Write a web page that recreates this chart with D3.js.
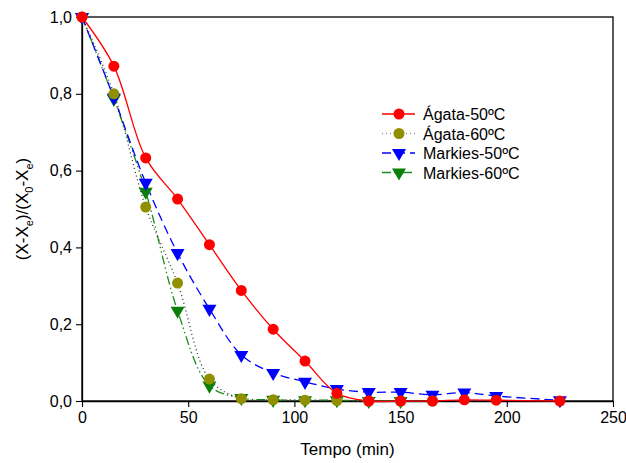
<!DOCTYPE html>
<html>
<head>
<meta charset="utf-8">
<script src="https://cdn.jsdelivr.net/npm/d3@7"></script>
<style>
  body { margin: 0; background: #fff; }
  text { font-family: "Liberation Sans", Arial, sans-serif; }
</style>
</head>
<body>
<svg id="chart" width="626" height="463"></svg>
<script>
// Drying data - time in minutes, moisture ratio
var tempo = [0, 15, 30, 45, 60, 75, 90, 105, 120, 135, 150, 165, 180, 195, 225];
var agata50 = [1.0, 0.872, 0.633, 0.526, 0.407, 0.288, 0.187, 0.104, 0.02, 0.0, 0.0, 0.0, 0.003, 0.002, 0.0];
var agata60Tempo = [0, 15, 30, 45, 60, 75, 90, 105, 120, 135, 150, 165];
var agata60 = [1.0, 0.80, 0.505, 0.307, 0.057, 0.006, 0.003, 0.002, 0.001, 0.0, 0.0, 0.0];
var markies50Tempo = [0, 15, 30, 45, 60, 75, 90, 105, 120, 135, 150, 165, 180, 195, 225];
var markies50 = [1.0, 0.79, 0.568, 0.385, 0.24, 0.12, 0.073, 0.05, 0.031, 0.023, 0.023, 0.016, 0.022, 0.013, 0.002];
var markies60Tempo = [0, 15, 30, 45, 60, 75, 90, 105, 120, 135, 150];
var markies60 = [1.0, 0.787, 0.545, 0.235, 0.04, 0.008, 0.003, 0.002, 0.002, 0.0, 0.0];

var xTicks = [0, 50, 100, 150, 200, 250];
var yTicks = [0, 0.2, 0.4, 0.6, 0.8, 1.0];

var series = [
	{ name: "Ágata-50ºC", x: tempo, y: agata50, color: "#ff0000", marker: "circle", mcolor: "#ff0000", dash: null },
	{ name: "Ágata-60ºC", x: agata60Tempo, y: agata60, color: "#333333", marker: "circle", mcolor: "#8f8f00", dash: "1,3" },
	{ name: "Markies-50ºC", x: markies50Tempo, y: markies50, color: "#0000ff", marker: "triangle", mcolor: "#0000ff", dash: "9,5" },
	{ name: "Markies-60ºC", x: markies60Tempo, y: markies60, color: "#1a8c1a", marker: "triangle", mcolor: "#0a800a", dash: "9,3,1.5,3,1.5,3" }
];

var margin = { top: 17, right: 13, bottom: 62, left: 82 };
var width = 626 - margin.left - margin.right;
var height = 463 - margin.top - margin.bottom;

var svg = d3.select("#chart");
var g = svg.append("g").attr("transform", "translate(" + margin.left + "," + margin.top + ")");

var x = d3.scaleLinear().domain([0, 250]).range([0, width]);
var y = d3.scaleLinear().domain([0, 1]).range([height, 0]);

var locale = d3.formatLocale({ decimal: ",", thousands: ".", grouping: [3], currency: ["", ""] });
var fmt = locale.format(".1f");

// Frame
g.append("rect")
	.attr("width", width).attr("height", height)
	.attr("fill", "none").attr("stroke", "#000").attr("stroke-width", 1.3);

// Axes
var xAxis = g.append("g").attr("transform", "translate(0," + height + ")")
	.call(d3.axisBottom(x).tickValues(xTicks).tickSize(6).tickPadding(5).tickSizeOuter(0));
var yAxis = g.append("g")
	.call(d3.axisLeft(y).tickValues(yTicks).tickFormat(fmt).tickSize(6).tickPadding(4).tickSizeOuter(0));

[xAxis, yAxis].forEach(function(a) {
	a.select(".domain").attr("stroke", "#000").attr("stroke-width", 1.3);
	a.selectAll(".tick line").attr("stroke", "#000").attr("stroke-width", 1.1);
	a.selectAll(".tick text").attr("font-size", 16).attr("fill", "#000")
		.style("font-family", "'Liberation Sans', Arial, sans-serif");
});

// Axis titles
svg.append("text")
	.attr("x", margin.left + width / 2).attr("y", 455)
	.attr("text-anchor", "middle").attr("font-size", 17)
	.text("Tempo (min)");

var yl = svg.append("text")
	.attr("transform", "translate(28," + (margin.top + height / 2) + ") rotate(-90)")
	.attr("text-anchor", "middle").attr("font-size", 17);
yl.append("tspan").text("(X-X");
yl.append("tspan").attr("font-size", 11).attr("dy", 5).text("e");
yl.append("tspan").attr("dy", -5).text(")/(X");
yl.append("tspan").attr("font-size", 11).attr("dy", 5).text("0");
yl.append("tspan").attr("dy", -5).text("-X");
yl.append("tspan").attr("font-size", 11).attr("dy", 5).text("e");
yl.append("tspan").attr("dy", -5).text(")");

var line = d3.line()
	.x(function(d) { return x(d[0]); })
	.y(function(d) { return y(d[1]); })
	.curve(d3.curveCatmullRom.alpha(0.5));

var circleSym = d3.symbol().type(d3.symbolCircle).size(95);
var triSym = d3.symbol().type(d3.symbolTriangle).size(85);

function drawMarker(sel, s) {
	if (s.marker === "circle") {
		sel.attr("d", circleSym);
	} else {
		sel.attr("d", triSym);
	}
}

// Draw in reverse so Ágata-50 sits on top like the original
series.slice().reverse().forEach(function(s) {
	var pts = s.x.map(function(t, i) { return [t, s.y[i]]; });
	g.append("path")
		.datum(pts)
		.attr("d", line)
		.attr("fill", "none")
		.attr("stroke", s.color)
		.attr("stroke-width", 1.3)
		.attr("stroke-dasharray", s.dash);
});

series.slice().reverse().forEach(function(s) {
	var pts = s.x.map(function(t, i) { return [t, s.y[i]]; });
	g.selectAll(null)
		.data(pts)
		.enter()
		.append("path")
		.attr("transform", function(d) {
			var r = s.marker === "triangle" ? " rotate(180)" : "";
			return "translate(" + x(d[0]) + "," + y(d[1]) + ")" + r;
		})
		.call(drawMarker, s)
		.attr("fill", s.mcolor);
});

// Legend
var legend = svg.append("g").attr("transform", "translate(382,114)");
series.forEach(function(s, i) {
	var row = legend.append("g").attr("transform", "translate(0," + (i * 19.5) + ")");
	row.append("line")
		.attr("x1", 0).attr("x2", 33).attr("y1", 0).attr("y2", 0)
		.attr("stroke", s.name === "Ágata-60ºC" ? "#999" : s.color)
		.attr("stroke-width", 1.3)
		.attr("stroke-dasharray", s.dash);
	row.append("path")
		.attr("transform", "translate(17,0)" + (s.marker === "triangle" ? " rotate(180)" : ""))
		.call(drawMarker, s)
		.attr("fill", s.mcolor);
	row.append("text")
		.attr("x", 41).attr("y", 6)
		.attr("font-size", 16)
		.text(s.name);
});
</script>
</body>
</html>
